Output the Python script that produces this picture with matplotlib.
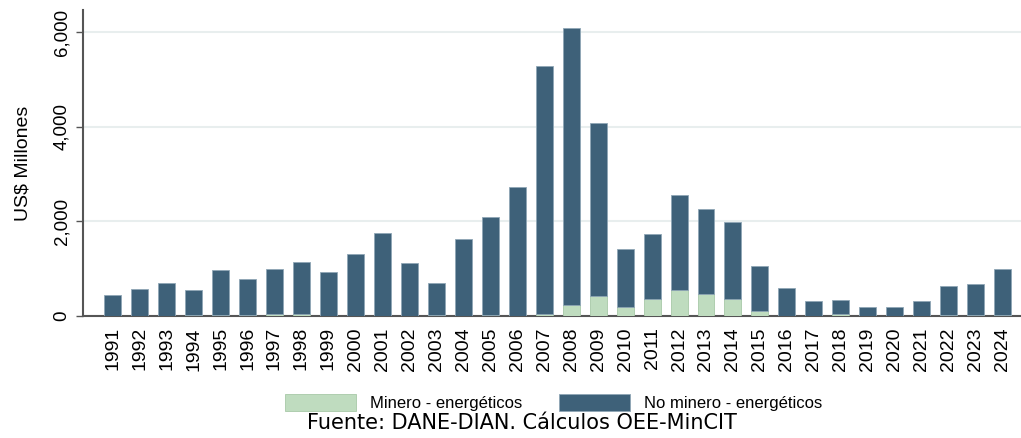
import numpy as np
import matplotlib
matplotlib.use("Agg")
import matplotlib.pyplot as plt

# values (US$ millones)
years = [str(y) for y in range(1991, 2025)]
minero = [10, 10, 5, 15, 15, 15, 40, 35, 5, 5, 5, 5, 15, 10, 15, 5, 36,
          226, 429, 195, 370, 543, 458, 366, 99, 5, 10, 42, 5, 5, 5, 15, 20, 25]
no_minero = [434, 560, 685, 535, 955, 775, 960, 1100, 918, 1298, 1742, 1108,
             675, 1617, 2083, 2727, 5246, 5852, 3642, 1220, 1356, 2020, 1802,
             1613, 964, 593, 307, 303, 192, 192, 312, 612, 650, 975]
yticks = [0, 2000, 4000, 6000]

green = "#bfdcbf"
blue = "#3e6179"

plt.rcParams["font.family"] = ["Liberation Sans", "DejaVu Sans"]

fig = plt.figure(figsize=(10.21, 4.38), dpi=100)
ax = fig.add_axes([0.0813, 0.2785, 0.9187, 0.6986])

x = np.arange(len(years))
ax.bar(x, minero, width=0.63, color=green, edgecolor="#a8c8a8", linewidth=0.6,
       label="Minero - energéticos", zorder=3)
ax.bar(x, no_minero, width=0.63, bottom=minero, color=blue, edgecolor="#8fa6b6",
       linewidth=0.6, label="No minero - energéticos", zorder=3)

ax.set_xlim(-1.10, 33.68)
ax.set_ylim(0, 6465)
ax.set_xticks(x)
ax.set_xticklabels(years, rotation=90, fontsize=14)
ax.set_yticks(yticks)
ax.set_yticklabels([f"{v:,}" for v in yticks], rotation=90, va="center", fontsize=13.5)
ax.tick_params(axis="x", length=0, pad=8)
ax.tick_params(axis="y", length=5, width=1, color="#555555", pad=4)
ax.set_ylabel("US$ Millones", fontsize=14, labelpad=16)

ax.grid(axis="y", color="#e8eeee", linewidth=1.5, zorder=0)
for side in ["top", "right"]:
    ax.spines[side].set_visible(False)
for side in ["left", "bottom"]:
    ax.spines[side].set_color("#555555")
    ax.spines[side].set_linewidth(1.5)

fig.legend(loc="center", bbox_to_anchor=(0.542, 0.082), ncol=2, frameon=False,
           fontsize=12, handlelength=4.3, handleheight=1.2, handletextpad=0.8,
           columnspacing=2.2)
fig.text(0.511, 0.034, "Fuente: DANE-DIAN. Cálculos OEE-MinCIT", ha="center",
         va="center", fontsize=15, family="DejaVu Sans")

fig.savefig("out.png", dpi=100)
